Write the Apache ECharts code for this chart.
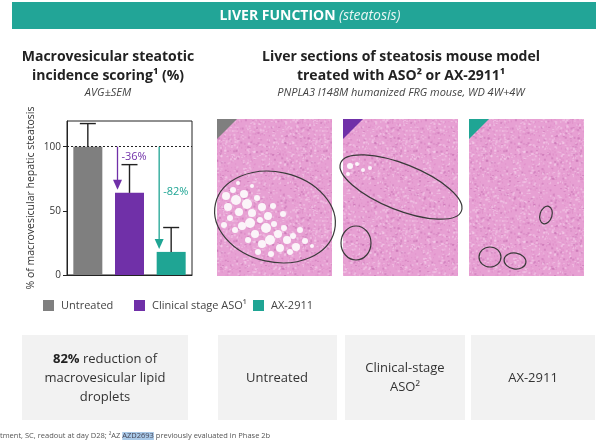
<!DOCTYPE html>
<html>
<head>
<meta charset="utf-8">
<script src="https://cdn.jsdelivr.net/npm/echarts@6/dist/echarts.min.js"></script>
<style>
  html, body { margin: 0; padding: 0; background: #fff; }
  #chart { width: 616px; height: 443px; }
</style>
</head>
<body>
<div id="chart"></div>
<script>
// chart values
var categories = ['Untreated', 'Clinical stage ASO¹', 'AX-2911'];
var meanValues = [100, 64, 18];
var errorTops = [118, 86, 37];
var reductionLabels = ['', '-36%', '-82%'];
var reductionLabelAt = [0, 92, 65];
var yTicks = [0, 50, 100];
var barColors = ['#7f7f7f', '#7030a8', '#1fa594'];

var FONT = '"Open Sans", "Noto Sans", sans-serif';

// tissue-like texture for the histology placeholders (decoration only)
function tissuePattern() {
	var c = document.createElement('canvas');
	c.width = 90; c.height = 90;
	var g = c.getContext('2d');
	g.fillStyle = '#e7a0d3';
	g.fillRect(0, 0, 90, 90);
	function h(n) { var s = Math.sin(n * 12.9898) * 43758.5453; return s - Math.floor(s); }
	for (var i = 0; i < 1100; i++) {
		var x = h(i) * 90, y = h(i + 5000) * 90, k = h(i + 9000);
		g.globalAlpha = 0.55;
		g.fillStyle = k < 0.4 ? '#dc86c4' : (k < 0.85 ? '#f4cdea' : '#c973b4');
		g.fillRect(x, y, 1 + (k * 2 | 0), 1 + (h(i + 77) * 2 | 0));
	}
	g.globalAlpha = 1;
	return { image: c, repeat: 'repeat' };
}
var tissue = tissuePattern();

var panels = [
	{ x: 217, color: barColors[0] },
	{ x: 343, color: barColors[1] },
	{ x: 469, color: barColors[2] }
];
var ellipses = [
	[275, 217, 61, 45, -0.22],
	[401, 187, 65, 23, -0.38],
	[356, 243, 15, 17, 0],
	[546, 215, 6, 9, -0.3],
	[490, 257, 11, 10, 0],
	[515, 261, 11, 8, -0.15]
];
var droplets = [
	[226,196,4],[233,190,3],[236,200,5],[228,207,4],[244,194,4],[247,204,5],[239,212,4],
	[230,218,3],[252,213,4],[257,198,3],[262,207,4],[250,223,5],[242,226,4],[260,220,3],
	[268,216,4],[266,228,5],[255,234,4],[274,224,3],[278,234,4],[270,240,5],[284,228,3],
	[287,240,4],[262,244,4],[280,248,4],[293,236,3],[296,247,4],[290,252,3],[248,240,3],
	[273,206,3],[283,214,3],[300,230,3],[305,241,3],[235,230,3],[224,225,3],[258,252,3],
	[271,254,3],[312,246,2],[238,183,2],[252,186,2],
	[350,166,3],[357,164,2],[363,170,2],[370,168,2],[348,174,2]
];

var graphics = [];
// banner
graphics.push({ type: 'rect', shape: { x: 12, y: 2, width: 584, height: 27 }, style: { fill: '#22a597' } });
graphics.push({
	type: 'text', x: 310, y: 16,
	style: {
		text: '{b|LIVER FUNCTION} {i|(steatosis)}', align: 'center', verticalAlign: 'middle',
		rich: {
			b: { fontFamily: FONT, fontSize: 14, fontWeight: 'bold', fill: '#fff' },
			i: { fontFamily: FONT, fontSize: 14, fontStyle: 'italic', fill: '#e8f6f4' }
		}
	}
});
// headings
function txt(x, y, s, size, weight, style, color) {
	graphics.push({
		type: 'text', x: x, y: y,
		style: { text: s, align: 'center', verticalAlign: 'middle', fontFamily: FONT,
			fontSize: size, fontWeight: weight || 'normal', fontStyle: style || 'normal', fill: color || '#333' }
	});
}
txt(108, 57, 'Macrovesicular steatotic', 14, 'bold', null, '#222');
txt(108, 76, 'incidence scoring¹ (%)', 14, 'bold', null, '#222');
txt(108, 93, 'AVG±SEM', 11, 'normal', 'italic', '#444');
txt(401, 57, 'Liver sections of steatosis mouse model', 14, 'bold', null, '#222');
txt(401, 76, 'treated with ASO² or AX-2911¹', 14, 'bold', null, '#222');
txt(401, 93, 'PNPLA3 I148M humanized FRG mouse, WD 4W+4W', 11, 'normal', 'italic', '#444');

// histology placeholders
panels.forEach(function (p) {
	graphics.push({ type: 'rect', shape: { x: p.x, y: 119, width: 115, height: 157 }, style: { fill: tissue } });
	graphics.push({ type: 'polygon', shape: { points: [[p.x, 119], [p.x + 20, 119], [p.x, 139]] }, style: { fill: p.color } });
});
droplets.forEach(function (d) {
	graphics.push({ type: 'circle', shape: { cx: d[0], cy: d[1], r: d[2] }, style: { fill: '#fbf4f9' } });
});
ellipses.forEach(function (e) {
	graphics.push({
		type: 'ellipse', x: e[0], y: e[1], rotation: e[4],
		shape: { cx: 0, cy: 0, rx: e[2], ry: e[3] },
		style: { fill: 'none', stroke: '#3a3a3a', lineWidth: 1.2 }
	});
});

// bottom boxes
var boxes = [[22, 166], [218, 119], [345, 120], [471, 124]];
boxes.forEach(function (b) {
	graphics.push({ type: 'rect', shape: { x: b[0], y: 335, width: b[1], height: 85 }, style: { fill: '#f2f2f2' } });
});
graphics.push({
	type: 'text', x: 105, y: 378,
	style: {
		text: '{b|82%} reduction of\nmacrovesicular lipid\ndroplets', align: 'center', verticalAlign: 'middle',
		fontFamily: FONT, fontSize: 13, lineHeight: 19, fill: '#333',
		rich: { b: { fontFamily: FONT, fontSize: 13, fontWeight: 'bold', fill: '#222', lineHeight: 19 } }
	}
});
txt(277, 378, 'Untreated', 13);
txt(405, 368, 'Clinical-stage', 13);
txt(405, 387, 'ASO²', 13);
txt(533, 378, 'AX-2911', 13);
// footnote
graphics.push({
	type: 'text', x: 0, y: 436,
	style: {
		text: 'tment, SC, readout at day D28; ²AZ {hl|AZD2693} previously evaluated in Phase 2b',
		align: 'left', verticalAlign: 'middle', fontFamily: FONT, fontSize: 7.5, fill: '#555',
		rich: { hl: { fontFamily: FONT, fontSize: 7.5, fill: '#445', backgroundColor: '#a9c9e8' } }
	}
});

var barSeries = categories.map(function (name, i) {
	return {
		name: name, type: 'bar', barWidth: 29, barGap: '-100%',
		itemStyle: { color: barColors[i] },
		data: categories.map(function (c, j) { return j === i ? meanValues[i] : '-'; }),
		markLine: i === 0 ? {
			silent: true, symbol: 'none', label: { show: false },
			lineStyle: { color: '#222', type: [2, 2], width: 1 },
			data: [{ yAxis: 100 }]
		} : undefined
	};
});

var errorSeries = {
	type: 'custom', silent: true, z: 5,
	data: meanValues.map(function (v, i) { return [i, v, errorTops[i]]; }),
	renderItem: function (params, api) {
		var lo = api.coord([api.value(0), api.value(1)]);
		var hi = api.coord([api.value(0), api.value(2)]);
		var st = { stroke: '#222', lineWidth: 1.4 };
		return { type: 'group', children: [
			{ type: 'line', shape: { x1: lo[0], y1: lo[1], x2: hi[0], y2: hi[1] }, style: st },
			{ type: 'line', shape: { x1: hi[0] - 8, y1: hi[1], x2: hi[0] + 8, y2: hi[1] }, style: st }
		] };
	}
};

var arrowSeries = {
	type: 'custom', silent: true, z: 6,
	data: [1, 2].map(function (i) { return [i, 100, meanValues[i], reductionLabelAt[i]]; }),
	renderItem: function (params, api) {
		var i = api.value(0);
		var c = barColors[i];
		var a = api.coord([i, api.value(1)]);
		var b = api.coord([i, api.value(2)]);
		var t = api.coord([i, api.value(3)]);
		var x = a[0] - 12, tip = b[1] - 3;
		return { type: 'group', children: [
			{ type: 'line', shape: { x1: x, y1: a[1], x2: x, y2: tip - 8 }, style: { stroke: c, lineWidth: 1.3 } },
			{ type: 'polygon', shape: { points: [[x - 4.5, tip - 10], [x + 4.5, tip - 10], [x, tip]] }, style: { fill: c } },
			{ type: 'text', x: x + 4, y: t[1], style: { text: reductionLabels[i], align: 'left', verticalAlign: 'middle',
				fontFamily: FONT, fontSize: 11, fill: c } }
		] };
	}
};

function legendFor(i, left) {
	return {
		data: [categories[i]], left: left, top: 295, itemWidth: 11, itemHeight: 11, itemGap: 0,
		icon: 'rect', textStyle: { fontFamily: FONT, fontSize: 11, color: '#444', padding: [0, 0, 0, 2] },
		selectedMode: false
	};
}

var chart = echarts.init(document.getElementById('chart'));
chart.setOption({
	animation: false,
	legend: [legendFor(0, 38), legendFor(1, 129), legendFor(2, 248)],
	grid: { left: 67, top: 121, width: 125, height: 154, show: true, borderColor: '#222', borderWidth: 1 },
	xAxis: {
		type: 'category', data: categories,
		axisLine: { lineStyle: { color: '#222' } },
		axisTick: { show: false }, axisLabel: { show: false }
	},
	yAxis: {
		type: 'value', min: 0, max: 120, interval: 50,
		name: '% of macrovesicular hepatic steatosis', nameLocation: 'middle', nameGap: 30,
		nameTextStyle: { fontFamily: FONT, fontSize: 10.5, color: '#333' },
		axisLine: { show: true, lineStyle: { color: '#222' } },
		axisTick: { show: true, length: 4, customValues: yTicks, lineStyle: { color: '#222' } },
		axisLabel: { customValues: yTicks, fontFamily: FONT, fontSize: 10, color: '#333', margin: 6 },
		splitLine: { show: false }
	},
	series: barSeries.concat([errorSeries, arrowSeries]),
	graphic: graphics
});
</script>
</body>
</html>
